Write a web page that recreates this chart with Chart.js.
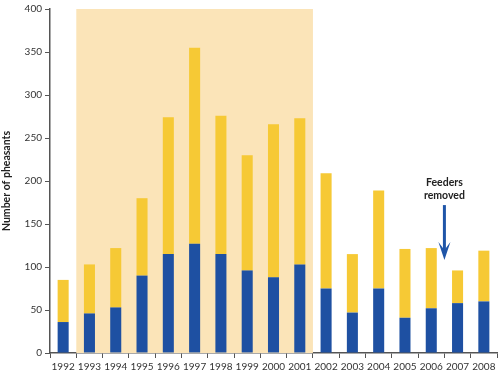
<!DOCTYPE html>
<html>
<head>
<meta charset="utf-8">
<script src="https://cdn.jsdelivr.net/npm/chart.js@4"></script>
<style>
  html, body { margin: 0; padding: 0; background: #fff; }
  #wrap { width: 500px; height: 375px; }
</style>
</head>
<body>
<div id="wrap"><canvas id="pheasantChart" width="500" height="375"></canvas></div>
<script>
var years = ['1992', '1993', '1994', '1995', '1996', '1997', '1998', '1999', '2000',
             '2001', '2002', '2003', '2004', '2005', '2006', '2007', '2008'];
// lower (blue) part of each bar
var blueValues = [36, 46, 53, 90, 115, 127, 115, 96, 88, 103, 75, 47, 75, 41, 52, 58, 60];
// bar totals
var totalValues = [85, 103, 122, 180, 274, 355, 276, 230, 266, 273, 209, 115, 189, 121, 122, 96, 119];
var yellowValues = totalValues.map(function(t, i) { return t - blueValues[i]; });
var yTicks = [0, 50, 100, 150, 200, 250, 300, 350, 400];
var shadedYears = ['1993', '2001'];
var noteText = ['Feeders', 'removed'];

var fontName = 'Lato, "Open Sans", sans-serif';

// peach band behind the 1993-2001 bars
var shadePlugin = {
    id: 'shade',
    beforeDatasetsDraw: function(chart) {
        var x = chart.scales.x, y = chart.scales.y;
        var half = (x.getPixelForValue(1) - x.getPixelForValue(0)) / 2;
        var left = x.getPixelForValue(years.indexOf(shadedYears[0])) - half;
        var right = x.getPixelForValue(years.indexOf(shadedYears[1])) + half;
        var ctx = chart.ctx;
        ctx.save();
        ctx.fillStyle = '#fbe4b8';
        ctx.fillRect(left, y.getPixelForValue(400), right - left, y.getPixelForValue(0) - y.getPixelForValue(400));
        ctx.restore();
    }
};

// "Feeders removed" note with the arrow
var notePlugin = {
    id: 'note',
    afterDraw: function(chart) {
        var x = chart.scales.x, y = chart.scales.y;
        var ax = (x.getPixelForValue(14) + x.getPixelForValue(15)) / 2;
        var ctx = chart.ctx;
        ctx.save();
        ctx.fillStyle = '#222';
        ctx.font = 'bold 10.5px ' + fontName;
        ctx.textAlign = 'center';
        ctx.textBaseline = 'middle';
        ctx.fillText(noteText[0], ax, y.getPixelForValue(198));
        ctx.fillText(noteText[1], ax, y.getPixelForValue(183));
        var top = y.getPixelForValue(172);
        var tip = y.getPixelForValue(108);
        ctx.strokeStyle = '#1f55a8';
        ctx.fillStyle = '#1f55a8';
        ctx.lineWidth = 3;
        ctx.beginPath();
        ctx.moveTo(ax, top);
        ctx.lineTo(ax, tip - 8);
        ctx.stroke();
        ctx.beginPath();
        ctx.moveTo(ax - 6, tip - 18);
        ctx.lineTo(ax, tip);
        ctx.lineTo(ax + 6, tip - 18);
        ctx.lineTo(ax, tip - 10);
        ctx.closePath();
        ctx.fill();
        ctx.restore();
    }
};

var ctx = document.getElementById('pheasantChart').getContext('2d');
var pheasantChart = new Chart(ctx, {
    type: 'bar',
    data: {
        labels: years,
        datasets: [{
            label: 'Blue',
            data: blueValues,
            backgroundColor: '#1e50a2',
            barPercentage: 0.42,
            categoryPercentage: 1
        }, {
            label: 'Yellow',
            data: yellowValues,
            backgroundColor: '#f6c935',
            barPercentage: 0.42,
            categoryPercentage: 1
        }]
    },
    options: {
        responsive: false,
        animation: false,
        layout: { padding: { top: 6, right: 3, left: 0, bottom: 0 } },
        plugins: {
            legend: { display: false },
            tooltip: { enabled: false }
        },
        scales: {
            x: {
                stacked: true,
                offset: true,
                grid: {
                    offset: true,
                    drawOnChartArea: false,
                    tickLength: 5,
                    color: '#555',
                    tickColor: '#555'
                },
                border: { color: '#555', width: 1.5 },
                ticks: {
                    color: '#333',
                    font: { family: fontName, size: 10 },
                    maxRotation: 0,
                    autoSkip: false,
                    padding: 3
                },
                afterFit: function(scale) { scale.height = 22; }
            },
            y: {
                stacked: true,
                min: 0,
                max: 400,
                afterBuildTicks: function(scale) {
                    scale.ticks = yTicks.map(function(v) { return { value: v }; });
                },
                grid: {
                    drawOnChartArea: false,
                    tickLength: 5,
                    color: '#555',
                    tickColor: '#555'
                },
                border: { color: '#555', width: 1.5 },
                ticks: {
                    color: '#333',
                    font: { family: fontName, size: 10 },
                    padding: 3
                },
                title: {
                    display: true,
                    text: 'Number of pheasants',
                    color: '#222',
                    font: { family: fontName, size: 10.5, weight: 'bold' },
                    padding: { top: 0, bottom: 4 }
                },
                afterFit: function(scale) { scale.width = 50; }
            }
        }
    },
    plugins: [shadePlugin, notePlugin]
});
</script>
</body>
</html>
